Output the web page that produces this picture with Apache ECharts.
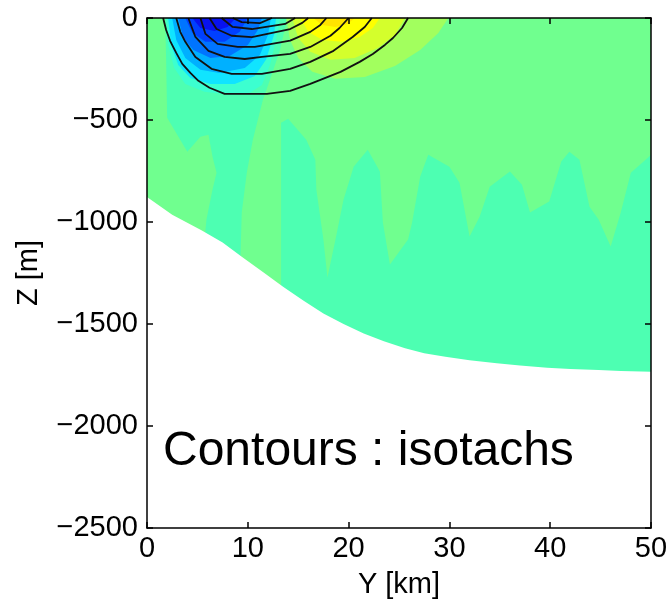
<!DOCTYPE html>
<html><head><meta charset="utf-8">
<script src="https://cdn.jsdelivr.net/npm/echarts@6/dist/echarts.min.js"></script>
<style>html,body{margin:0;padding:0;background:#fff}#c{width:672px;height:604px}</style>
</head><body><div id="c"></div>
<script>
// ---- tick labels ----
const xTicks = [0, 10, 20, 30, 40, 50];
const zTicks = [0, -500, -1000, -1500, -2000, -2500];

// ---- bathymetry (bottom of the ocean) [Y km, Z m] ----
const bathymetry = [[0,-878],[2.5,-965],[5.4,-1040],[7.5,-1100],[9.4,-1170],[11.5,-1245],[13.5,-1318],[15.5,-1385],[17.5,-1448],[19.5,-1500],[21.5,-1546],[23.5,-1585],[25.6,-1619],[27.5,-1643],[29.6,-1660],[32,-1678],[34.7,-1693],[37,-1704],[39.7,-1714],[42,-1720],[44.8,-1725],[47,-1730],[50,-1734]];

// ---- filled contour regions [Y km, Z m] ----
const deepWestRegion = [[1.8,0],[1.9,-205],[2.0,-489],[4.0,-656],[5.3,-582],[6.1,-572],[6.5,-680],[6.9,-758],[6.5,-841],[5.9,-988],[5.3,-1300],[9.2,-1300],[9.4,-954],[9.9,-758],[10.5,-597],[11.5,-401],[12.2,-303],[13.2,-157],[13.9,0]];
const deepEastRegion = [[13.3,-2000],[13.3,-514],[14.0,-494],[15.8,-597],[16.7,-695],[16.8,-841],[17.5,-1086],[17.9,-1272],[18.7,-1086],[19.5,-890],[20.5,-729],[21.9,-646],[23.1,-753],[23.4,-1003],[24.1,-1208],[25.9,-1086],[26.3,-1003],[27.1,-778],[27.9,-670],[30.0,-729],[31.0,-807],[32.0,-1071],[33.0,-974],[34.0,-827],[36.0,-753],[37.2,-817],[38.0,-954],[39.9,-900],[41.1,-704],[41.9,-656],[42.9,-695],[43.9,-925],[44.8,-988],[46.0,-1120],[47.0,-954],[48.0,-758],[49.8,-680],[50,-670],[50,-2000]];
const neg1 = [[1.9,0],[2.1,-132],[2.7,-245],[3.8,-323],[5.7,-362],[8.4,-377],[10.2,-367],[11.4,-328],[12.2,-230],[12.8,-108],[13.2,0]];
const neg2 = [[2.1,0],[2.4,-132],[3.1,-230],[4.3,-294],[6.3,-323],[8.7,-323],[10.7,-284],[11.8,-205],[12.6,-83],[12.8,0]];
const neg3 = [[2.5,0],[2.9,-108],[3.8,-196],[5.3,-254],[7.2,-269],[9.7,-245],[11.2,-181],[12.0,-83],[12.3,0]];
const neg4 = [[3.1,0],[3.6,-98],[4.6,-157],[6.3,-196],[8.2,-186],[10.0,-132],[11.0,-59],[11.4,0]];
const neg5 = [[3.8,0],[4.5,-73],[5.8,-117],[7.7,-117],[9.2,-68],[10.0,0]];
const neg6 = [[4.5,0],[5.3,-49],[6.7,-64],[8.0,-44],[8.8,0]];
const pos1 = [[13.8,0],[14.2,-108],[15.0,-196],[16.4,-264],[18.7,-298],[21.6,-289],[24.6,-235],[27.1,-157],[28.9,-73],[29.9,0]];
const pos2 = [[14.4,0],[15.0,-98],[16.2,-166],[18.2,-205],[20.6,-196],[22.9,-147],[24.6,-83],[25.6,0]];
const pos3 = [[15.2,0],[16.0,-68],[17.4,-108],[19.3,-117],[21.1,-93],[22.4,-49],[23.1,0]];
const pos4 = [[16.5,0],[17.4,-34],[18.7,-44],[19.9,-29],[20.6,0]];

// ---- isotachs (black contour lines) [Y km, Z m] ----
const isoA = [[1.6,0],[1.9,-59],[2.3,-113],[2.9,-171],[3.5,-225],[4.3,-269],[5.1,-308],[6.2,-342],[7.7,-372],[11.9,-372],[14.2,-357],[16.2,-323],[19.2,-264],[21.1,-215],[22.4,-176],[23.6,-132],[24.4,-98],[25.3,-49],[25.9,0]];
const isoB = [[2.9,0],[3.3,-68],[3.8,-117],[4.8,-191],[6.4,-249],[8.4,-274],[11.4,-274],[14.2,-249],[16.2,-215],[18.5,-161],[20.4,-93],[21.6,-44],[22.3,0]];
const isoC = [[4.1,0],[4.8,-93],[6.1,-161],[7.7,-191],[9.7,-201],[11.4,-191],[14.2,-176],[16.2,-142],[18.2,-87],[19.1,-49],[20.0,0]];
const isoD = [[5.3,0],[5.8,-78],[7.0,-127],[9.0,-142],[10.7,-142],[14.2,-111],[16.2,-68],[17.2,-34],[17.8,0]];
const isoE = [[6.2,0],[6.9,-54],[8.4,-87],[10.4,-94],[14.2,-54],[15.4,-24],[16.0,0]];
const isoF = [[7.4,0],[8.5,-44],[10.4,-54],[13.7,-29],[14.7,0]];
const isoG = [[8.5,0],[9.4,-20],[11.2,-25],[12.4,0]];

const FONT = '"Liberation Sans", Arial, Helvetica, sans-serif';
const regions = [
  [deepWestRegion, '#4dffb2'], [deepEastRegion, '#4dffb2'],
  [neg1, '#3cffd0'], [neg2, '#10e4ff'], [neg3, '#00b0ff'], [neg4, '#0074ff'], [neg5, '#0040ff'], [neg6, '#0812ee'],
  [pos1, '#a2ff5e'], [pos2, '#d4ff2c'], [pos3, '#ffff00'], [pos4, '#ffe400']
];
const isotachs = [isoA, isoB, isoC, isoD, isoE, isoF, isoG];

function polySeries(poly, color) {
  return {
    type: 'custom', silent: true, clip: true,
    data: [poly[0]],
    renderItem: function (params, api) {
      return { type: 'polygon', shape: { points: poly.map(p => api.coord(p)) }, style: { fill: color, stroke: null } };
    }
  };
}
const fmt = v => v < 0 ? '\u2212' + Math.abs(v) : String(v);
const series = [];
regions.forEach(r => series.push(polySeries(r[0], r[1])));
series.push({
  type: 'line', data: bathymetry, showSymbol: false, symbol: 'none', silent: true,
  lineStyle: { width: 0, color: '#ffffff' },
  areaStyle: { color: '#ffffff', opacity: 1, origin: 'start' }
});
isotachs.forEach(l => series.push({
  type: 'line', data: l, symbol: 'none', showSymbol: false, silent: true,
  lineStyle: { color: '#111', width: 1.8 }
}));

const chart = echarts.init(document.getElementById('c'), null, { renderer: 'canvas' });
const axisLine = { show: true, onZero: false, lineStyle: { color: '#000', width: 1.5 } };
const tick = { inside: true, length: 6, lineStyle: { color: '#000', width: 1.5 } };
chart.setOption({
  animation: false,
  backgroundColor: '#fff',
  grid: { left: 147, right: 21, top: 18, bottom: 75, show: true, backgroundColor: '#70ff8f', borderWidth: 0 },
  xAxis: [
    { type: 'value', position: 'bottom', min: xTicks[0], max: xTicks[xTicks.length - 1], interval: 10, z: 10,
      name: 'Y [km]', nameLocation: 'middle', nameGap: 42,
      nameTextStyle: { color: '#000', fontSize: 29, fontFamily: FONT },
      axisLine: axisLine, axisTick: tick, splitLine: { show: false },
      axisLabel: { color: '#000', fontSize: 29, fontFamily: FONT, margin: 6, formatter: fmt } },
    { type: 'value', position: 'top', min: xTicks[0], max: xTicks[xTicks.length - 1], interval: 10, z: 10,
      axisLine: axisLine, axisTick: tick, splitLine: { show: false }, axisLabel: { show: false } }
  ],
  yAxis: [
    { type: 'value', position: 'left', min: zTicks[zTicks.length - 1], max: zTicks[0], interval: 500, z: 10,
      name: 'Z [m]', nameLocation: 'middle', nameGap: 104, nameRotate: 90,
      nameTextStyle: { color: '#000', fontSize: 29, fontFamily: FONT },
      axisLine: axisLine, axisTick: tick, splitLine: { show: false },
      axisLabel: { color: '#000', fontSize: 29, fontFamily: FONT, margin: 9, formatter: fmt } },
    { type: 'value', position: 'right', min: zTicks[zTicks.length - 1], max: zTicks[0], interval: 500, z: 10,
      axisLine: axisLine, axisTick: tick, splitLine: { show: false }, axisLabel: { show: false } }
  ],
  graphic: [{
    type: 'text', x: 163, y: 452, z: 100,
    style: { text: 'Contours : isotachs', font: '48px ' + FONT, fill: '#000', verticalAlign: 'middle', align: 'left' }
  }],
  series: series
});
</script></body></html>
